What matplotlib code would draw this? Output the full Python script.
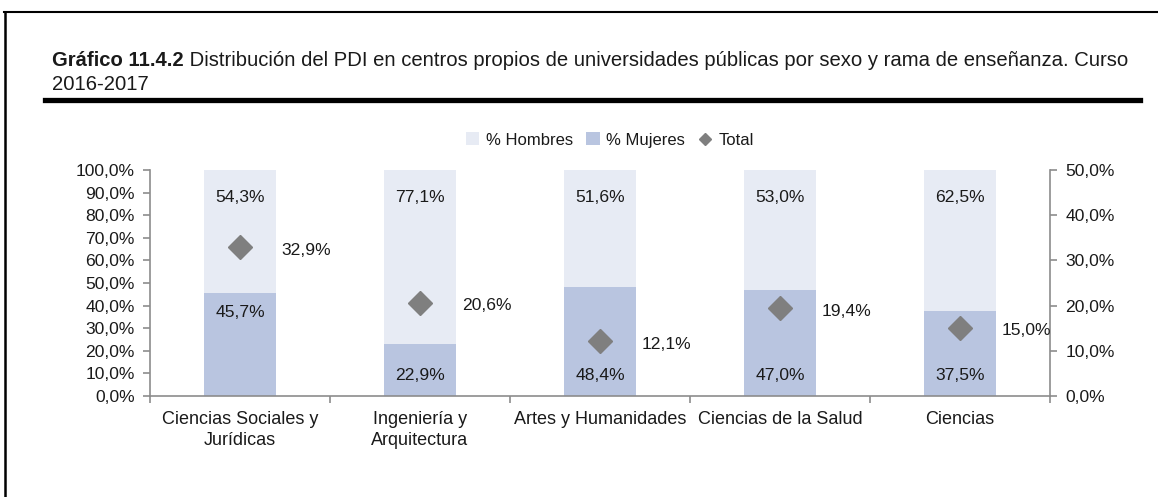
import matplotlib
matplotlib.use("Agg")
import matplotlib.pyplot as plt
from matplotlib.lines import Line2D
from matplotlib.patches import Patch
import numpy as np

# datos
ramas = ["Ciencias Sociales y\nJurídicas", "Ingeniería y\nArquitectura",
         "Artes y Humanidades", "Ciencias de la Salud", "Ciencias"]
hombres = [54.3, 77.1, 51.6, 53.0, 62.5]
mujeres = [45.7, 22.9, 48.4, 47.0, 37.5]
total = [32.9, 20.6, 12.1, 19.4, 15.0]
ticks_izq = [0, 10, 20, 30, 40, 50, 60, 70, 80, 90, 100]
ticks_der = [0, 10, 20, 30, 40, 50]

plt.rcParams['font.family'] = ['Liberation Sans', 'DejaVu Sans']
c_h = '#E7EBF4'
c_m = '#B9C5E0'
c_t = '#7F7F7F'
c_ax = '#8C8C8C'
c_txt = '#1A1A1A'
fs = 12.6

def pct(v):
    return ("%.1f%%" % v).replace('.', ',')

fig = plt.figure(figsize=(11.58, 4.97), dpi=100)
W, H = 1158, 497
ax = fig.add_axes([150 / W, 1 - 396 / H, 900 / W, 226 / H])
ax2 = ax.twinx()

x = np.arange(len(ramas))
ax.bar(x, mujeres, width=0.4, color=c_m, zorder=2)
ax.bar(x, hombres, width=0.4, bottom=mujeres, color=c_h, zorder=2)
ax2.plot(x, total, linestyle='none', marker='D', markersize=12, color=c_t, zorder=3)

ax.set_xlim(-0.5, len(ramas) - 0.5)
ax.set_ylim(0, 100)
ax2.set_ylim(0, 50)
ax.set_yticks(ticks_izq)
ax.set_yticklabels([pct(v) for v in ticks_izq])
ax2.set_yticks(ticks_der)
ax2.set_yticklabels([pct(v) for v in ticks_der])
ax.set_xticks(x)
ax.set_xticklabels(ramas)
ax.set_xticks(np.arange(len(ramas) + 1) - 0.5, minor=True)

for a in (ax, ax2):
    a.spines['top'].set_visible(False)
    for s in ('left', 'right', 'bottom'):
        a.spines[s].set_color(c_ax)
        a.spines[s].set_linewidth(1.2)
ax.spines['right'].set_visible(False)
ax2.spines['left'].set_visible(False)
ax2.spines['bottom'].set_visible(False)

ax.tick_params(axis='y', colors=c_ax, labelcolor=c_txt, labelsize=fs, length=5, width=1.2, pad=6)
ax2.tick_params(axis='y', colors=c_ax, labelcolor=c_txt, labelsize=fs, length=5, width=1.2, pad=6)
ax.tick_params(axis='x', which='major', length=0, labelcolor=c_txt, labelsize=13, pad=11)
ax.tick_params(axis='x', which='minor', length=5, width=1.2, color=c_ax)
for lab in ax.get_xticklabels():
    lab.set_linespacing(1.3)

# etiquetas de datos
for i in range(len(ramas)):
    ax.annotate(pct(hombres[i]), xy=(i, 100), xytext=(0, -19.5), textcoords='offset points',
                ha='center', va='center', fontsize=fs, color=c_txt, zorder=4)
    if i == 0:
        ax.annotate(pct(mujeres[i]), xy=(i, mujeres[i]), xytext=(0, -14), textcoords='offset points',
                    ha='center', va='center', fontsize=fs, color=c_txt, zorder=4)
    else:
        ax.annotate(pct(mujeres[i]), xy=(i, 0), xytext=(0, 14.5), textcoords='offset points',
                    ha='center', va='center', fontsize=fs, color=c_txt, zorder=4)
    ax2.annotate(pct(total[i]), xy=(i, total[i]), xytext=(30, -2), textcoords='offset points',
                 ha='left', va='center', fontsize=fs, color=c_txt, zorder=4)

# leyenda
handles = [Patch(facecolor=c_h, edgecolor='none'), Patch(facecolor=c_m, edgecolor='none'),
           Line2D([], [], linestyle='none', marker='D', markersize=6, color=c_t)]
fig.legend(handles, ['% Hombres', '% Mujeres', 'Total'], loc='center',
           bbox_to_anchor=(610 / W, 1 - 140 / H), ncol=3, frameon=False, fontsize=12,
           handlelength=0.8, handleheight=0.8, handletextpad=0.4, columnspacing=0.8,
           labelcolor=c_txt)

# titulo
t1 = fig.text(52 / W, 1 - 60 / H, "Gráfico 11.4.2", fontsize=14.6, fontweight='bold',
              va='center', ha='left', color=c_txt)
ax.annotate(" Distribución del PDI en centros propios de universidades públicas por sexo y rama de enseñanza. Curso",
            xy=(1, 0), xycoords=t1, va='bottom', ha='left', fontsize=14.6, color=c_txt,
            annotation_clip=False)
fig.text(52 / W, 1 - 85 / H, "2016-2017", fontsize=14.6, va='center', ha='left', color=c_txt)

fig.add_artist(Line2D([45 / W, 1140 / W], [1 - 100 / H, 1 - 100 / H], color='black', linewidth=3.8))
# marco
fig.add_artist(Line2D([4 / W, 1], [1 - 12 / H, 1 - 12 / H], color='black', linewidth=1.5))
fig.add_artist(Line2D([5 / W, 5 / W], [1 - 12 / H, 0], color='black', linewidth=1.8))

fig.savefig("out.png", dpi=100)
